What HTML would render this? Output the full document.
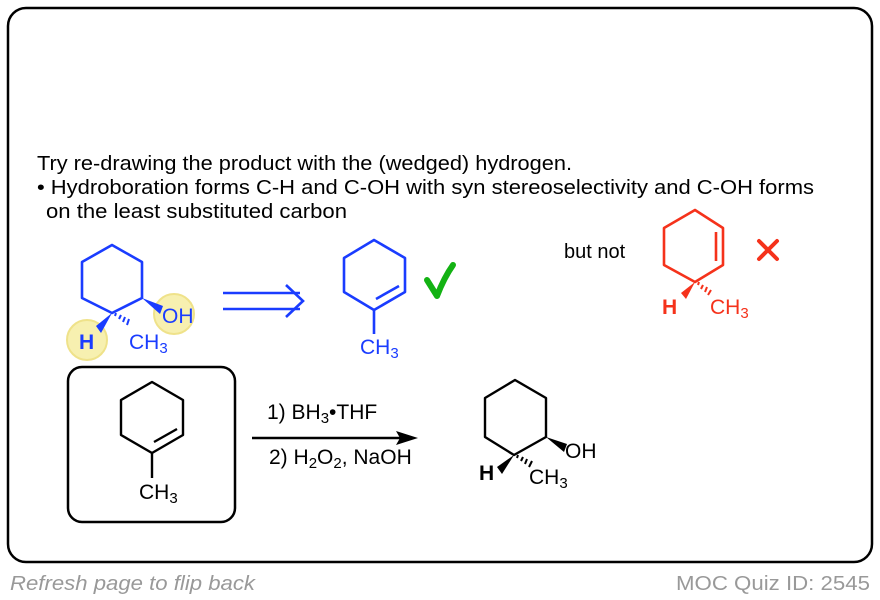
<!DOCTYPE html>
<html><head><meta charset="utf-8"><style>
html,body{margin:0;padding:0;background:#fff;}
svg{display:block;font-family:"Liberation Sans",Arial,sans-serif;}
</style></head><body>
<svg width="880" height="600" viewBox="0 0 880 600" xmlns="http://www.w3.org/2000/svg">
<rect x="8" y="8" width="864" height="554" rx="18" fill="#fff" stroke="#000" stroke-width="2.5"/>
<g font-size="20" fill="#000">
<text x="37" y="170" textLength="535" lengthAdjust="spacingAndGlyphs">Try re-drawing the product with the (wedged) hydrogen.</text>
<text x="37" y="194" textLength="777" lengthAdjust="spacingAndGlyphs">• Hydroboration forms C-H and C-OH with syn stereoselectivity and C-OH forms</text>
<text x="46" y="218" textLength="301" lengthAdjust="spacingAndGlyphs">on the least substituted carbon</text>
</g>
<!-- highlights -->
<circle cx="87" cy="340" r="20" fill="#f7f0b0" stroke="#efe28a" stroke-width="2"/>
<circle cx="174" cy="314" r="20" fill="#f7f0b0" stroke="#efe28a" stroke-width="2"/>
<!-- blue product -->
<g stroke="#1a3cff" stroke-width="2.6" fill="none" stroke-linejoin="round">
<polygon points="112,245 142,262 142,298 112,313 82,298 82,262"/>
</g>
<polygon points="142,298 163,306 160,314" fill="#1a3cff"/>
<polygon points="112,313 96,326 101,333" fill="#1a3cff"/>
<g stroke="#1a3cff" stroke-width="2">
<line x1="115" y1="316" x2="116" y2="313"/><line x1="119" y1="319" x2="121" y2="315"/><line x1="123" y1="322" x2="125" y2="317"/><line x1="127" y1="325" x2="129" y2="319"/>
</g>
<g fill="#1a3cff" font-size="21">
<text x="162" y="323">OH</text>
<text x="129" y="349">CH<tspan font-size="15" dy="4">3</tspan></text>
<text x="79" y="349" font-weight="bold">H</text>
</g>
<!-- retro arrow -->
<g stroke="#1a3cff" stroke-width="2.6" fill="none">
<line x1="223" y1="293" x2="300" y2="293"/>
<line x1="223" y1="309" x2="300" y2="309"/>
<polyline points="286,285 303,301 286,317"/>
</g>
<!-- blue alkene -->
<g stroke="#1a3cff" stroke-width="2.6" fill="none" stroke-linejoin="round">
<polygon points="374,240 405,258 405,292 374,310 344,292 344,258"/>
<line x1="399" y1="286" x2="376" y2="299"/>
<line x1="374" y1="310" x2="374" y2="334"/>
</g>
<text x="360" y="354" fill="#1a3cff" font-size="21">CH<tspan font-size="15" dy="4">3</tspan></text>
<path d="M427,280 L437,296 C442,283 448,272 453,265" stroke="#13b213" stroke-width="6" fill="none" stroke-linecap="round" stroke-linejoin="round"/>
<!-- but not -->
<text x="564" y="258" font-size="20">but not</text>
<g stroke="#f5321b" stroke-width="2.6" fill="none" stroke-linejoin="round">
<polygon points="695,210 723,228 723,265 695,282 664,265 664,228"/>
<line x1="716" y1="232" x2="716" y2="261"/>
</g>
<polygon points="695,282 681,293 686,299" fill="#f5321b"/>
<g stroke="#f5321b" stroke-width="2">
<line x1="698" y1="285" x2="699" y2="282"/><line x1="701" y1="289" x2="703" y2="285"/><line x1="705" y1="292" x2="707" y2="287"/><line x1="708" y1="295" x2="711" y2="290"/>
</g>
<g fill="#f5321b" font-size="21">
<text x="662" y="314" font-weight="bold">H</text>
<text x="710" y="314">CH<tspan font-size="15" dy="4">3</tspan></text>
</g>
<g stroke="#f5321b" stroke-width="4" stroke-linecap="round">
<line x1="759" y1="241" x2="777" y2="259"/><line x1="777" y1="241" x2="759" y2="259"/>
</g>
<!-- box -->
<rect x="68" y="367" width="167" height="155" rx="14" fill="none" stroke="#000" stroke-width="2.5"/>
<g stroke="#000" stroke-width="2.4" fill="none" stroke-linejoin="round">
<polygon points="152,382 183,400 183,435 152,453 121,435 121,400"/>
<line x1="177" y1="429" x2="154" y2="442"/>
<line x1="152" y1="453" x2="152" y2="478"/>
<line x1="252" y1="438" x2="405" y2="438"/>
</g>
<polygon points="418,438 396,431 400,438 396,445" fill="#000"/>
<g font-size="21" fill="#000">
<text x="139" y="499">CH<tspan font-size="15" dy="4">3</tspan></text>
<text x="267" y="419">1) BH<tspan font-size="15" dy="4">3</tspan><tspan dy="-4">•THF</tspan></text>
<text x="269" y="464">2) H<tspan font-size="15" dy="4">2</tspan><tspan dy="-4">O</tspan><tspan font-size="15" dy="4">2</tspan><tspan dy="-4">, NaOH</tspan></text>
</g>
<!-- product -->
<g stroke="#000" stroke-width="2.4" fill="none" stroke-linejoin="round">
<polygon points="515,380 546,398 546,437 514,455 485,437 485,398"/>
</g>
<polygon points="546,437 567,444 564,452" fill="#000"/>
<polygon points="514,455 497,467 502,474" fill="#000"/>
<g stroke="#000" stroke-width="2">
<line x1="517" y1="458" x2="518" y2="455"/><line x1="521" y1="461" x2="523" y2="457"/><line x1="525" y1="464" x2="527" y2="459"/><line x1="529" y1="467" x2="532" y2="461"/>
</g>
<g font-size="21" fill="#000">
<text x="565" y="458">OH</text>
<text x="479" y="480" font-weight="bold">H</text>
<text x="529" y="484">CH<tspan font-size="15" dy="4">3</tspan></text>
</g>
<text x="10" y="590" font-size="20" font-style="italic" fill="#999" textLength="245" lengthAdjust="spacingAndGlyphs">Refresh page to flip back</text>
<text x="676" y="590" font-size="20" fill="#999" textLength="194" lengthAdjust="spacingAndGlyphs">MOC Quiz ID: 2545</text>
</svg>
</body></html>
